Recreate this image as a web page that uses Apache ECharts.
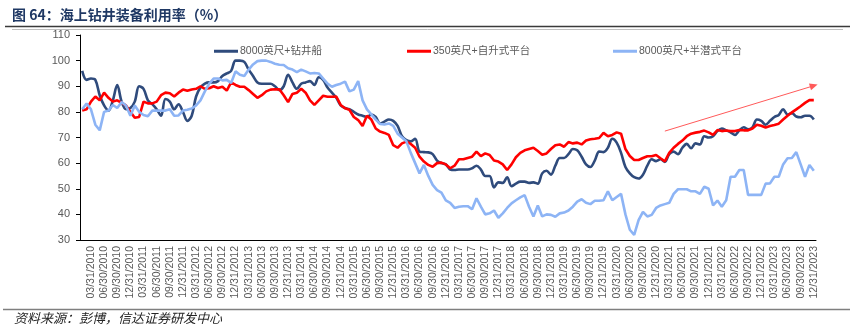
<!DOCTYPE html>
<html>
<head>
<meta charset="utf-8">
<script src="https://cdn.jsdelivr.net/npm/echarts@6.0.0/dist/echarts.min.js"></script>
<style>
  html, body { margin: 0; padding: 0; background: #ffffff; }
  #chart { width: 853px; height: 335px; }
</style>
</head>
<body>
<div id="chart"></div>
<script>
// Monthly utilisation (%), Jan 2010 – Dec 2023
const firstYear = 2010;
const lastYear = 2023;

const seriesNames = ['8000英尺+钻井船', '350英尺+自升式平台', '8000英尺+半潜式平台'];

const drillship = [
  96, 92.5, 93, 92.5, 86.5, 82.5, 80.5, 84.5, 90.5, 84,
  81, 81.5, 84, 90, 89, 84.5, 83, 81, 78.5, 85,
  84, 81, 83, 80, 76.5, 78.5, 86, 89.5, 91, 91.5,
  91.5, 92, 94, 95, 96, 100, 100, 99.5, 96.5, 94,
  91.5, 91, 91, 91, 90, 88.5, 90, 94.5, 91.5, 89,
  91, 91.5, 92, 90.5, 93.5, 92.5, 89.5, 87.5, 85.5, 82.5,
  81.5, 81, 80, 79, 78.5, 78, 79, 78, 75.5, 76.2,
  77, 76.5, 74.5, 70.5, 69, 68.5, 69.5, 64.5, 64.3, 64.2,
  63.5, 61, 60, 59.5, 57.5, 57.3, 57.5, 57.5, 57.5, 58,
  59, 57.5, 55, 55, 50.5, 52.5, 52.3, 54.5, 51, 52,
  52.8, 52.8, 52.3, 52.5, 52, 56, 57, 55.5, 59, 62,
  62, 63.5, 65.5, 65, 62.5, 59.5, 58.5, 61, 64.5, 64.3,
  66, 69.5, 68, 64, 58.5, 56, 54.5, 54, 55.5, 59,
  61.5, 60.8, 61.5, 60.5, 63.5, 64.5, 63.5, 66, 67.5, 65.8,
  67.7, 67.3, 70.5, 70, 70.5, 72.5, 73.5, 72.8, 72, 71,
  72.8, 74, 73.2, 74, 77, 76.5, 75, 76.5, 78, 78.8,
  81, 79, 79.5, 78.2, 77.9, 78.5, 78.5, 77
];

const jackup = [
  80.5, 81, 84, 86, 84.5, 87.5, 85.5, 84, 84.5, 83.5,
  82.5, 80, 77.7, 78, 84, 83.3, 83.3, 84, 86.5, 87.5,
  87.3, 86, 87.5, 88.7, 88.2, 88.7, 89, 90, 89, 89.2,
  90, 89.3, 89.8, 88.3, 91.5, 90.5, 89.8, 89.8, 88.5, 87,
  85.5, 86.5, 88, 88.7, 88.8, 88.8, 86.5, 83.8, 87, 87.5,
  89, 87.5, 84.5, 82.7, 84.5, 86.3, 85.9, 85.9, 86, 82.7,
  81.4, 80.8, 78, 76.8, 74.5, 78.5, 77, 73.5, 72.3, 71.8,
  71, 67, 66, 67.7, 68.4, 67.5, 66, 62.5, 60.6, 59.3,
  58.6, 60, 60.2, 59.5, 58, 59, 61.5, 61.5, 62, 62.5,
  64.5, 62.7, 63.8, 63.2, 61, 60.6, 59.5, 57.3, 59.5, 62.3,
  64, 65, 65.5, 66, 64.7, 63.3, 63.8, 65.5, 67, 67.3,
  66.4, 68.2, 67.7, 68, 67.3, 68.8, 69.3, 69.5, 69.8, 71.8,
  70.5, 71, 72, 71.5, 65.5, 62.8, 61.2, 61.2, 62, 62.7,
  62.7, 63.2, 61.9, 60.7, 64, 66, 67.5, 68.8, 70.5, 71.5,
  71.9, 72.2, 72.7, 72, 71, 72.9, 72.5, 72.7, 72.5, 72.5,
  72.9, 72.8, 72.8, 73.5, 75, 74.6, 73.9, 74.5, 74.9, 75.4,
  77, 78.5, 79.8, 81, 82.2, 83.5, 84.6, 84.6
];

const semisub = [
  81, 83.3, 81, 75, 72.8, 80, 80.5, 82.7, 81.5, 83.8,
  82.5, 78.5, 82.5, 80, 78.8, 78.3, 80.5, 80.5, 80.5, 80.5,
  81, 78.5, 78.6, 80.5, 80.8, 81.3, 82.5, 84.5, 88, 91,
  93, 93, 92.3, 92.5, 91.3, 95.8, 94.5, 94, 96.5, 98.5,
  99.8, 100, 100, 99.5, 98.8, 98.4, 98.3, 97, 96.5, 95.5,
  96.5, 95.8, 95, 95.2, 95, 93, 91, 89.8, 90.5, 91,
  91.8, 88, 88.7, 92, 84.5, 81, 79, 77, 75.3, 75.1,
  75.5, 74.5, 71.5, 70, 68.5, 64, 60, 56, 59.3, 55,
  51.5, 49.5, 48.5, 45.5, 44.5, 42.5, 43, 43.2, 43.2, 42,
  46.3, 43, 40, 40.4, 41.5, 38.7, 40.4, 42.5, 44.3, 45.5,
  46.6, 47.5, 43, 39.2, 43.5, 39.2, 40, 39.8, 39.1, 40.4,
  40.7, 41.5, 43, 45, 45.9, 44.5, 44, 45.3, 45.3, 45.5,
  49, 45.5, 46.8, 48, 40, 34, 32, 37.8, 41, 39.2,
  39.8, 42.5, 43.5, 44, 44.5, 48, 49.8, 49.8, 49.8, 49,
  49, 48, 50.8, 50, 43.5, 45.4, 43, 45.5, 54.7, 54.7,
  57.3, 57.3, 47.6, 47.6, 47.6, 47.6, 52, 52.1, 54.7, 54.7,
  59.5, 61.9, 62, 64.3, 59.5, 54.7, 59.3, 57
];

// Trend arrow drawn over the jackup series: [monthIndex, value] pairs
const trendArrow = [[133, 72.5], [167, 90.2]];

// Month-end date labels, e.g. 03/31/2010
function pad2(n) { return n < 10 ? '0' + n : String(n); }
const months = [];
for (let y = firstYear; y <= lastYear; y++) {
  for (let m = 1; m <= 12; m++) {
    const day = new Date(Date.UTC(y, m, 0)).getUTCDate();
    months.push(pad2(m) + '/' + pad2(day) + '/' + y);
  }
}

const colors = ['#2F4B7C', '#FF0000', '#8DB4F5'];
const latinCjk = '"Liberation Sans", Arial, "Noto Sans CJK SC", sans-serif';

const chart = echarts.init(document.getElementById('chart'), null, { renderer: 'canvas' });

const legendBase = {
  top: 41,
  icon: 'rect',
  itemWidth: 24,
  itemHeight: 3,
  itemGap: 0,
  textStyle: { color: '#595959', fontSize: 10.5, fontFamily: latinCjk, padding: [0, 0, 0, -3] }
};

chart.setOption({
  animation: false,
  backgroundColor: '#ffffff',
  color: colors,
  grid: { left: 80, right: 37, top: 35, bottom: 95, containLabel: false },
  legend: [
    Object.assign({ left: 209, data: [seriesNames[0]] }, legendBase),
    Object.assign({ left: 402, data: [seriesNames[1]] }, legendBase),
    Object.assign({ left: 608, data: [seriesNames[2]] }, legendBase)
  ],
  xAxis: {
    type: 'category',
    data: months,
    boundaryGap: true,
    axisLine: { lineStyle: { color: '#000000', width: 1 } },
    axisTick: { show: false },
    axisLabel: {
      interval: function (idx) { return idx % 3 === 2; },
      rotate: 90,
      margin: 6,
      color: '#595959',
      fontSize: 10.5,
      fontFamily: latinCjk
    },
    splitLine: { show: false }
  },
  yAxis: {
    type: 'value',
    min: 30,
    max: 110,
    interval: 10,
    axisLine: { show: true, lineStyle: { color: '#000000', width: 1 } },
    axisTick: { show: true, length: 4, lineStyle: { color: '#000000' } },
    axisLabel: { margin: 10, color: '#595959', fontSize: 11, fontFamily: latinCjk },
    splitLine: { show: false }
  },
  series: [
    {
      name: seriesNames[0],
      type: 'line',
      data: drillship,
      symbol: 'none',
      smooth: 0.35,
      lineStyle: { width: 2.6, color: colors[0] }
    },
    {
      name: seriesNames[1],
      type: 'line',
      data: jackup,
      symbol: 'none',
      lineStyle: { width: 2.6, color: colors[1] },
      markLine: {
        silent: true,
        symbol: ['none', 'triangle'],
        symbolSize: [7, 8],
        lineStyle: { color: '#FF5A5A', width: 1, type: 'solid' },
        label: { show: false },
        emphasis: { disabled: true },
        data: [[{ coord: trendArrow[0] }, { coord: trendArrow[1] }]]
      }
    },
    {
      name: seriesNames[2],
      type: 'line',
      data: semisub,
      symbol: 'none',
      lineStyle: { width: 2.6, color: colors[2] }
    }
  ],
  graphic: [
    {
      type: 'text',
      left: 12,
      top: 8,
      style: {
        text: '图 64：海上钻井装备利用率（%）',
        fill: '#1F3864',
        font: 'bold 14px "Noto Sans CJK SC", sans-serif'
      }
    },
    {
      type: 'line',
      shape: { x1: 5, y1: 26.5, x2: 850, y2: 26.5 },
      style: { stroke: '#3A3A3A', lineWidth: 1.5 }
    },
    {
      type: 'line',
      shape: { x1: 12, y1: 29.5, x2: 843, y2: 29.5 },
      style: { stroke: '#BFBFBF', lineWidth: 1 }
    },
    {
      type: 'line',
      shape: { x1: 3, y1: 309.5, x2: 850, y2: 309.5 },
      style: { stroke: '#7F7F7F', lineWidth: 1.5 }
    },
    {
      type: 'text',
      left: 14,
      top: 312,
      style: {
        text: '资料来源：彭博，信达证券研发中心',
        fill: '#262626',
        font: 'italic 13px "Noto Sans CJK SC", sans-serif'
      }
    }
  ]
});
</script>
</body>
</html>
